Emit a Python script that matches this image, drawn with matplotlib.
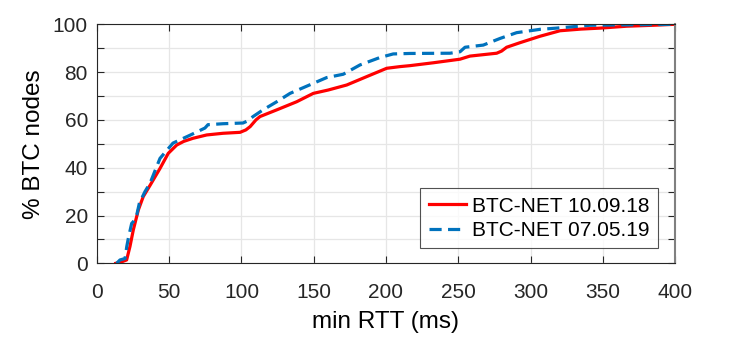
import numpy as np
import matplotlib
matplotlib.use("Agg")
import matplotlib.pyplot as plt

# CDF of min RTT
rtt_2018 = [13, 17, 20.5, 22.8, 25.1, 28.6, 32, 36.7, 43.6, 49.3, 55.2, 60, 66.4, 75.9,
            87.2, 99, 103, 106, 110, 112.8, 124.4, 138.2, 149.7, 160, 172.8, 186.6,
            200.5, 209.7, 216.6, 232.7, 251.2, 258.1, 276.6, 280, 283.5, 292.7, 306.6,
            320.4, 335, 348, 366.6, 385, 400]
cdf_2018 = [0, 0.6, 1.4, 7, 13.9, 22.3, 27.9, 32.6, 39.7, 46, 49.5, 51, 52.3, 53.7,
            54.4, 54.8, 55.8, 57.2, 60, 61.4, 64.2, 67.6, 71.1, 72.5, 74.6, 78.1,
            81.6, 82.3, 82.7, 83.9, 85.4, 86.7, 87.9, 88.8, 90.4, 92.3, 95,
            97.3, 98, 98.4, 99.2, 99.6, 100]

rtt_2019 = [13.6, 15.9, 19.4, 20.6, 21.7, 24, 25.1, 27.5, 29.3, 33.2, 36.7, 43.6, 52.6,
            64.4, 74.7, 76.8, 87.2, 101, 104, 108, 114.9, 124.4, 133.6, 149.7, 158.9,
            170.4, 182, 195.8, 205, 216.6, 244.3, 251.2, 254.7, 267.3, 279, 290.4,
            306.6, 318, 341, 370, 400]
cdf_2019 = [0, 1.4, 2, 7, 10.5, 16.7, 17.4, 20.2, 25.1, 30, 33.5, 43.9, 50.3,
            53.6, 56.6, 58, 58.4, 58.7, 59.5, 61.4, 64.2, 67.6, 71.1, 75.3, 77.7,
            79.1, 83, 86.1, 87.6, 87.8, 87.9, 88.5, 90.4, 91.3, 94.1, 96.5,
            97.9, 98.4, 99.6, 99.8, 100]

labels = ["BTC-NET 10.09.18", "BTC-NET 07.05.19"]

plt.rcParams['font.family'] = ['Liberation Sans', 'DejaVu Sans']

fig = plt.figure(figsize=(7.47, 3.38), dpi=100)
ax = fig.add_axes([97 / 747, 1 - 263.3 / 338, (675 - 97) / 747, (263.3 - 24.3) / 338])

ax.plot(rtt_2018, cdf_2018, color='#ff0000', lw=2.3, label=labels[0])
ax.plot(rtt_2019, cdf_2019, color='#0072bd', lw=2.3, ls=(0, (3.8, 2.0)), label=labels[1])

ax.set_xlim(0, 400)
ax.set_ylim(0, 100)
ax.set_xticks(np.arange(0, 401, 50))
ax.set_yticks(np.arange(0, 101, 10))
ax.set_yticklabels([str(v) if v % 20 == 0 else '' for v in range(0, 101, 10)])
ax.grid(True, color='#e6e6e6', lw=0.9)
ax.set_axisbelow(True)

for side in ax.spines.values():
    side.set_color('#262626')
    side.set_linewidth(0.8)
ax.spines['right'].set_color('#808080')
ax.spines['right'].set_linewidth(1.5)
ax.tick_params(direction='in', length=5, width=0.8, colors='#262626', labelsize=15,
               top=True, right=True)
ax.tick_params(axis='x', pad=14)
ax.tick_params(axis='y', pad=6.5)

ax.set_xlabel("min RTT (ms)", fontsize=17.5, color='#000000', labelpad=7)
ax.set_ylabel("% BTC nodes", fontsize=17.5, color='#000000', labelpad=6)

leg = ax.legend(loc='lower right', fontsize=15, frameon=True, fancybox=False,
                edgecolor='#262626', handlelength=1.8, handletextpad=0.3,
                borderpad=0.4, labelspacing=0.25, borderaxespad=0.0,
                bbox_to_anchor=(0.971, 0.063))
leg.get_frame().set_linewidth(0.8)

fig.savefig("out.png", dpi=100)
